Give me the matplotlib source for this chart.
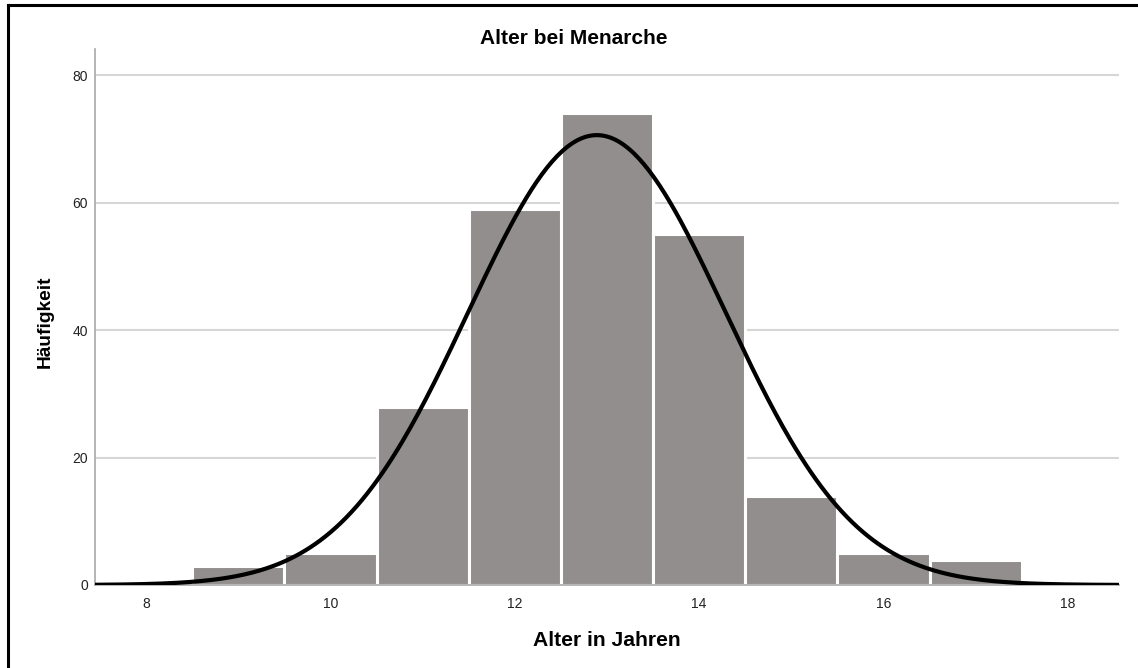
import numpy as np
import matplotlib
matplotlib.use("Agg")
from matplotlib import pyplot as plt
from matplotlib.lines import Line2D

# Histogramm-Daten (Alter bei Menarche)
ages = [9, 10, 11, 12, 13, 14, 15, 16, 17]
counts = [3, 5, 28, 59, 74, 55, 14, 5, 4]
x_ticks = [8, 10, 12, 14, 16, 18]
y_ticks = [0, 20, 40, 60, 80]

# Parameter der Normalverteilungskurve
mean_age = 12.89
sd_age = 1.396

plt.rcParams['font.family'] = ['Liberation Sans', 'DejaVu Sans']

W, H = 1138, 668
fig = plt.figure(figsize=(W / 100, H / 100), dpi=100)
ax = fig.add_axes([95 / W, 1 - 585 / H, (1119 - 95) / W, (585 - 49) / H])

ax.bar(ages, counts, width=1.0, color='#928e8d', edgecolor='white', linewidth=2.2, zorder=2)

n_total = sum(counts)
xs = np.linspace(7.445, 18.555, 400)
ys = n_total / (sd_age * np.sqrt(2 * np.pi)) * np.exp(-0.5 * ((xs - mean_age) / sd_age) ** 2)
ax.plot(xs, ys, color='black', linewidth=3, zorder=3, solid_capstyle='butt')

ax.set_xlim(7.445, 18.555)
ax.set_ylim(0, 84.1)
ax.set_xticks(x_ticks)
ax.set_yticks(y_ticks)
ax.tick_params(length=0, labelsize=10, colors='#222222')
ax.tick_params(axis='y', pad=5)
ax.tick_params(axis='x', pad=9)
ax.grid(axis='y', color='#d6d6d6', linewidth=1.5, zorder=0)
ax.set_axisbelow(True)
for s in ['top', 'right']:
    ax.spines[s].set_visible(False)
for s in ['left', 'bottom']:
    ax.spines[s].set_color('#a8a8a8')
    ax.spines[s].set_linewidth(1.2)

fig.text(574 / W, 1 - 38 / H, 'Alter bei Menarche', ha='center', va='center',
         fontsize=15, fontweight='bold')
fig.text(607 / W, 1 - 640 / H, 'Alter in Jahren', ha='center', va='center',
         fontsize=15.2, fontweight='bold')
fig.text(45 / W, 1 - 322 / H, 'Häufigkeit', ha='center', va='center',
         fontsize=13.8, fontweight='bold', rotation=90)

# Rahmen oben und links
fig.add_artist(Line2D([8 / W, 8 / W], [0, 1 - 5 / H], color='black', linewidth=2.2, transform=fig.transFigure))
fig.add_artist(Line2D([8 / W, 1], [1 - 5 / H, 1 - 5 / H], color='black', linewidth=2.2, transform=fig.transFigure))

fig.savefig('out.png', dpi=100)
